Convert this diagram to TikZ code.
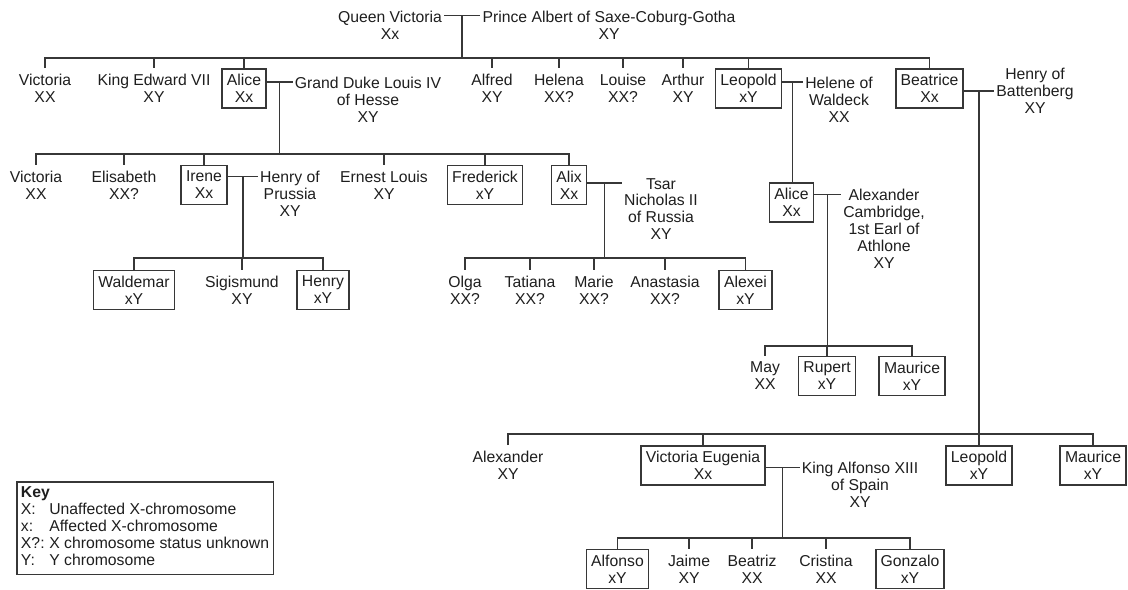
\documentclass[tikz,border=0pt]{standalone}
\usepackage{fontspec}
\setmainfont{Liberation Sans}
\usepackage{tikz}
\usetikzlibrary{calc}
\definecolor{lineGrey}{RGB}{55,55,55}
\definecolor{inkGrey}{RGB}{30,30,30}

\begin{document}
\begin{tikzpicture}[x=0.025cm, y=-0.025cm, line width=1.1pt,
  font=\fontsize{11.2}{12}\selectfont, text=inkGrey,
  person/.style={align=center, minimum height=0.975cm, inner xsep=0.12cm, inner ysep=0pt},
  boxed/.style={person, draw=lineGrey},
  spouse/.style={align=center, inner xsep=1pt, inner ysep=1pt},
  link/.style={draw=lineGrey}]
  \useasboundingbox (0,0) rectangle (1128,590);

  % Queen Victoria and Prince Albert
  \node[spouse] (qv) at (390,25) {Queen Victoria\\Xx};
  \node[spouse] (pa) at (609,25) {Prince Albert of Saxe-Coburg-Gotha\\XY};

  % their children
  \node[person] (vic1) at (45,88.5) {Victoria\\XX};
  \node[person] (edw) at (154,88.5) {King Edward VII\\XY};
  \node[boxed] (alice) at (244,88.5) {Alice\\Xx};
  \node[spouse] (gduke) at (368,100) {Grand Duke Louis IV\\of Hesse\\XY};
  \node[person] (alfred) at (492,88.5) {Alfred\\XY};
  \node[person] (helena) at (559,88.5) {Helena\\XX?};
  \node[person] (louise) at (623,88.5) {Louise\\XX?};
  \node[person] (arthur) at (683,88.5) {Arthur\\XY};
  \node[boxed] (leo) at (748.5,88.5) {Leopold\\xY};
  \node[spouse] (helene) at (839,100) {Helene of\\Waldeck\\XX};
  \node[boxed] (bea) at (929.5,88.5) {Beatrice\\Xx};
  \node[spouse] (hbat) at (1035,91) {Henry of\\Battenberg\\XY};

  % Alice's children
  \node[person] (vic2) at (36,185) {Victoria\\XX};
  \node[person] (elis) at (124,185) {Elisabeth\\XX?};
  \node[boxed] (irene) at (204,185) {Irene\\Xx};
  \node[spouse] (hpru) at (290,194) {Henry of\\Prussia\\XY};
  \node[person] (ernest) at (384,185) {Ernest Louis\\XY};
  \node[boxed] (fred) at (485,185) {Frederick\\xY};
  \node[boxed] (alix) at (569,185) {Alix\\Xx};
  \node[spouse] (tsar) at (661,209) {Tsar\\Nicholas II\\of Russia\\XY};

  % Leopold's daughter
  \node[boxed] (alice2) at (791.5,202.5) {Alice\\Xx};
  \node[spouse] (athl) at (884,229) {Alexander\\Cambridge,\\1st Earl of\\Athlone\\XY};

  % Beatrice's children
  \node[person] (alex) at (508,465.5) {Alexander\\XY};
  \node[boxed] (vicE) at (703,465.5) {Victoria Eugenia\\Xx};
  \node[spouse] (alf13) at (860,485) {King Alfonso XIII\\of Spain\\XY};
  \node[boxed] (leo2) at (979,465.5) {Leopold\\xY};
  \node[boxed] (maur2) at (1093,465.5) {Maurice\\xY};

  % grandchildren
  \node[boxed] (wald) at (134,290) {Waldemar\\xY};
  \node[person] (sigis) at (242,290) {Sigismund\\XY};
  \node[boxed] (henry) at (323,290) {Henry\\xY};
  \node[person] (olga) at (465,290) {Olga\\XX?};
  \node[person] (tatiana) at (530,290) {Tatiana\\XX?};
  \node[person] (marie) at (594,290) {Marie\\XX?};
  \node[person] (anast) at (665,290) {Anastasia\\XX?};
  \node[boxed] (alexei) at (745.5,290) {Alexei\\xY};
  \node[person] (may) at (765,376) {May\\XX};
  \node[boxed] (rupert) at (827,376) {Rupert\\xY};
  \node[boxed] (maur1) at (912,376) {Maurice\\xY};
  \node[boxed] (alfonso) at (617.5,569) {Alfonso\\xY};
  \node[person] (jaime) at (689,569) {Jaime\\XY};
  \node[person] (beatriz) at (752,569) {Beatriz\\XX};
  \node[person] (cristina) at (826,569) {Cristina\\XX};
  \node[boxed] (gonzalo) at (910,569) {Gonzalo\\xY};

  % key
  \node[draw=lineGrey, anchor=north west, inner sep=3pt] (key) at (16,481) {%
    \begin{tabular}{@{}l@{\hspace{0.3em}}l@{}}
      \multicolumn{2}{@{}l@{}}{\textbf{Key}}\\
      X: & Unaffected X-chromosome\\
      x: & Affected X-chromosome\\
      X?: & X chromosome status unknown\\
      Y: & Y chromosome
    \end{tabular}};

  % marriages, at the height of the first line
  \coordinate (w1) at ([yshift=-5pt]pa.north west);
  \coordinate (e1) at ([yshift=-5pt]qv.north east);
  \coordinate (w2) at ([yshift=-5pt]gduke.north west);
  \coordinate (w3) at ([yshift=-5pt]hpru.north west);
  \coordinate (w4) at ([yshift=-5pt]tsar.north west);
  \coordinate (w5) at ([yshift=-5pt]helene.north west);
  \coordinate (w6) at ([yshift=-5pt]athl.north west);
  \coordinate (w7) at (hbat.west);
  \coordinate (w8) at ([yshift=-5pt]alf13.north west);

  \draw[link] (e1) -- (w1);
  \draw[link] (alice.east |- w2) -- (w2);
  \draw[link] (irene.east |- w3) -- (w3);
  \draw[link] (alix.east |- w4) -- (w4);
  \draw[link] (leo.east |- w5) -- (w5);
  \draw[link] (alice2.east |- w6) -- (w6);
  \draw[link] (bea.east |- w7) -- (w7);
  \draw[link] (vicE.east |- w8) -- (w8);

  \coordinate (m1) at ($(e1)!0.5!(w1)$);
  \coordinate (m2) at ($(alice.east |- w2)!0.5!(w2)$);
  \coordinate (m3) at ($(irene.east |- w3)!0.5!(w3)$);
  \coordinate (m4) at ($(alix.east |- w4)!0.5!(w4)$);
  \coordinate (m5) at ($(leo.east |- w5)!0.5!(w5)$);
  \coordinate (m6) at ($(alice2.east |- w6)!0.5!(w6)$);
  \coordinate (m7) at ($(bea.east |- w7)!0.5!(w7)$);
  \coordinate (m8) at ($(vicE.east |- w8)!0.5!(w8)$);

  % sibling bars
  \coordinate (b1) at (0,58);
  \coordinate (b2) at (0,154);
  \coordinate (b3) at (0,258);
  \coordinate (b5) at (0,434);
  \coordinate (b6) at (0,346);
  \coordinate (b7) at (0,538);

  \draw[link] (m1) -- (m1 |- b1);
  \draw[link] (vic1.north) -- (vic1.north |- b1) -- (bea.north |- b1) -- (bea.north);
  \foreach \n in {edw,alice,alfred,helena,louise,arthur,leo}
    \draw[link] (\n.north |- b1) -- (\n.north);

  \draw[link] (m2) -- (m2 |- b2);
  \draw[link] (vic2.north) -- (vic2.north |- b2) -- (alix.north |- b2) -- (alix.north);
  \foreach \n in {elis,irene,ernest,fred}
    \draw[link] (\n.north |- b2) -- (\n.north);

  \draw[link] (m3) -- (m3 |- b3);
  \draw[link] (wald.north) -- (wald.north |- b3) -- (henry.north |- b3) -- (henry.north);
  \draw[link] (sigis.north |- b3) -- (sigis.north);

  \draw[link] (m4) -- (m4 |- b3);
  \draw[link] (olga.north) -- (olga.north |- b3) -- (alexei.north |- b3) -- (alexei.north);
  \foreach \n in {tatiana,marie,anast}
    \draw[link] (\n.north |- b3) -- (\n.north);

  \draw[link] (m5) -- (m5 |- alice2.north);

  \draw[link] (m6) -- (m6 |- b6);
  \draw[link] (may.north) -- (may.north |- b6) -- (maur1.north |- b6) -- (maur1.north);
  \draw[link] (rupert.north |- b6) -- (rupert.north);

  \draw[link] (m7) -- (m7 |- b5);
  \draw[link] (alex.north) -- (alex.north |- b5) -- (maur2.north |- b5) -- (maur2.north);
  \foreach \n in {vicE,leo2}
    \draw[link] (\n.north |- b5) -- (\n.north);

  \draw[link] (m8) -- (m8 |- b7);
  \draw[link] (alfonso.north) -- (alfonso.north |- b7) -- (gonzalo.north |- b7) -- (gonzalo.north);
  \foreach \n in {jaime,beatriz,cristina}
    \draw[link] (\n.north |- b7) -- (\n.north);
\end{tikzpicture}
\end{document}
